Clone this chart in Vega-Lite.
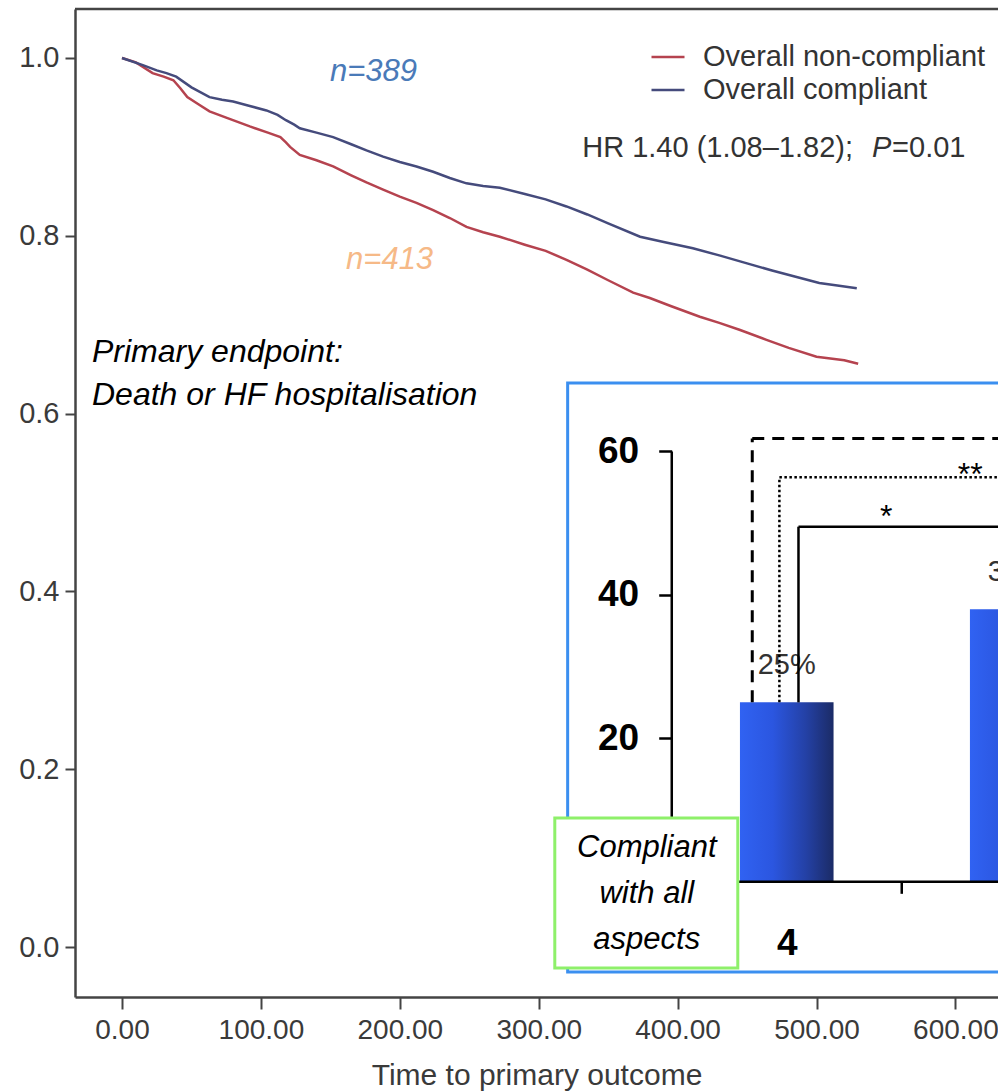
{
"$schema": "https://vega.github.io/schema/vega-lite/v6.json",
"autosize": "none",
"width": 923,
"height": 988,
"padding": {"left": 75, "top": 9, "right": 0, "bottom": 94},
"background": "white",
"config": {"view": {"stroke": null}, "font": "Liberation Sans", "axis": {"grid": false}},
"datasets": {
 "km": [
  {"t": 0, "s": 1.0, "group": "Overall non-compliant"},
  {"t": 10, "s": 0.995, "group": "Overall non-compliant"},
  {"t": 22, "s": 0.983, "group": "Overall non-compliant"},
  {"t": 30, "s": 0.979, "group": "Overall non-compliant"},
  {"t": 37, "s": 0.975, "group": "Overall non-compliant"},
  {"t": 42, "s": 0.966, "group": "Overall non-compliant"},
  {"t": 47, "s": 0.956, "group": "Overall non-compliant"},
  {"t": 55, "s": 0.948, "group": "Overall non-compliant"},
  {"t": 63, "s": 0.940, "group": "Overall non-compliant"},
  {"t": 75, "s": 0.933, "group": "Overall non-compliant"},
  {"t": 92, "s": 0.923, "group": "Overall non-compliant"},
  {"t": 105, "s": 0.916, "group": "Overall non-compliant"},
  {"t": 114, "s": 0.911, "group": "Overall non-compliant"},
  {"t": 118, "s": 0.905, "group": "Overall non-compliant"},
  {"t": 121, "s": 0.900, "group": "Overall non-compliant"},
  {"t": 128, "s": 0.891, "group": "Overall non-compliant"},
  {"t": 140, "s": 0.885, "group": "Overall non-compliant"},
  {"t": 152, "s": 0.878, "group": "Overall non-compliant"},
  {"t": 165, "s": 0.868, "group": "Overall non-compliant"},
  {"t": 176, "s": 0.860, "group": "Overall non-compliant"},
  {"t": 188, "s": 0.852, "group": "Overall non-compliant"},
  {"t": 200, "s": 0.844, "group": "Overall non-compliant"},
  {"t": 212, "s": 0.837, "group": "Overall non-compliant"},
  {"t": 224, "s": 0.829, "group": "Overall non-compliant"},
  {"t": 236, "s": 0.820, "group": "Overall non-compliant"},
  {"t": 248, "s": 0.810, "group": "Overall non-compliant"},
  {"t": 260, "s": 0.804, "group": "Overall non-compliant"},
  {"t": 272, "s": 0.799, "group": "Overall non-compliant"},
  {"t": 290, "s": 0.790, "group": "Overall non-compliant"},
  {"t": 305, "s": 0.783, "group": "Overall non-compliant"},
  {"t": 320, "s": 0.773, "group": "Overall non-compliant"},
  {"t": 335, "s": 0.762, "group": "Overall non-compliant"},
  {"t": 350, "s": 0.750, "group": "Overall non-compliant"},
  {"t": 368, "s": 0.736, "group": "Overall non-compliant"},
  {"t": 380, "s": 0.730, "group": "Overall non-compliant"},
  {"t": 395, "s": 0.721, "group": "Overall non-compliant"},
  {"t": 416, "s": 0.709, "group": "Overall non-compliant"},
  {"t": 430, "s": 0.702, "group": "Overall non-compliant"},
  {"t": 445, "s": 0.694, "group": "Overall non-compliant"},
  {"t": 464, "s": 0.683, "group": "Overall non-compliant"},
  {"t": 480, "s": 0.674, "group": "Overall non-compliant"},
  {"t": 500, "s": 0.664, "group": "Overall non-compliant"},
  {"t": 510, "s": 0.662, "group": "Overall non-compliant"},
  {"t": 520, "s": 0.660, "group": "Overall non-compliant"},
  {"t": 530, "s": 0.656, "group": "Overall non-compliant"},
  {"t": 0, "s": 1.0, "group": "Overall compliant"},
  {"t": 15, "s": 0.992, "group": "Overall compliant"},
  {"t": 25, "s": 0.986, "group": "Overall compliant"},
  {"t": 32, "s": 0.983, "group": "Overall compliant"},
  {"t": 39, "s": 0.979, "group": "Overall compliant"},
  {"t": 50, "s": 0.967, "group": "Overall compliant"},
  {"t": 63, "s": 0.956, "group": "Overall compliant"},
  {"t": 72, "s": 0.953, "group": "Overall compliant"},
  {"t": 80, "s": 0.951, "group": "Overall compliant"},
  {"t": 92, "s": 0.946, "group": "Overall compliant"},
  {"t": 104, "s": 0.941, "group": "Overall compliant"},
  {"t": 112, "s": 0.936, "group": "Overall compliant"},
  {"t": 118, "s": 0.930, "group": "Overall compliant"},
  {"t": 124, "s": 0.925, "group": "Overall compliant"},
  {"t": 128, "s": 0.921, "group": "Overall compliant"},
  {"t": 140, "s": 0.916, "group": "Overall compliant"},
  {"t": 152, "s": 0.911, "group": "Overall compliant"},
  {"t": 165, "s": 0.903, "group": "Overall compliant"},
  {"t": 176, "s": 0.896, "group": "Overall compliant"},
  {"t": 188, "s": 0.889, "group": "Overall compliant"},
  {"t": 200, "s": 0.883, "group": "Overall compliant"},
  {"t": 212, "s": 0.878, "group": "Overall compliant"},
  {"t": 224, "s": 0.872, "group": "Overall compliant"},
  {"t": 236, "s": 0.865, "group": "Overall compliant"},
  {"t": 248, "s": 0.859, "group": "Overall compliant"},
  {"t": 260, "s": 0.856, "group": "Overall compliant"},
  {"t": 272, "s": 0.854, "group": "Overall compliant"},
  {"t": 290, "s": 0.847, "group": "Overall compliant"},
  {"t": 305, "s": 0.841, "group": "Overall compliant"},
  {"t": 320, "s": 0.833, "group": "Overall compliant"},
  {"t": 335, "s": 0.824, "group": "Overall compliant"},
  {"t": 350, "s": 0.814, "group": "Overall compliant"},
  {"t": 373, "s": 0.799, "group": "Overall compliant"},
  {"t": 390, "s": 0.793, "group": "Overall compliant"},
  {"t": 411, "s": 0.786, "group": "Overall compliant"},
  {"t": 430, "s": 0.778, "group": "Overall compliant"},
  {"t": 450, "s": 0.769, "group": "Overall compliant"},
  {"t": 468, "s": 0.761, "group": "Overall compliant"},
  {"t": 485, "s": 0.754, "group": "Overall compliant"},
  {"t": 502, "s": 0.747, "group": "Overall compliant"},
  {"t": 515, "s": 0.744, "group": "Overall compliant"},
  {"t": 529, "s": 0.741, "group": "Overall compliant"}
 ],
 "bars": [
  {"aspects": 4, "pct": 25, "label": "25%"},
  {"aspects": 3, "pct": 38, "label": "38%"}
 ]
},
"layer": [
 {
  "layer": [
   {
    "data": {"name": "km"},
    "mark": {"type": "line", "strokeWidth": 2.5},
    "encoding": {
     "x": {"field": "t", "type": "quantitative",
       "scale": {"domain": [-33.84, 630.67], "nice": false, "zero": false},
       "axis": {"orient": "bottom", "values": [0, 100, 200, 300, 400, 500, 600], "format": ".2f", "title": "Time to primary outcome",
         "labelFontSize": 28, "labelColor": "#3a3a3a", "labelFont": "Liberation Sans", "titleFont": "Liberation Sans", "titleFontSize": 30, "titleFontWeight": "normal", "titleColor": "#3a3a3a",
         "domainColor": "#444", "domainWidth": 2.5, "tickColor": "#444", "tickWidth": 2, "tickSize": 12, "labelPadding": 7, "titlePadding": 16,
         "labelOverlap": false, "labelFlush": false, "labelBound": false, "grid": false}},
     "y": {"field": "s", "type": "quantitative",
       "scale": {"domain": [-0.0562, 1.0551], "nice": false, "zero": false},
       "axis": {"orient": "left", "values": [0, 0.2, 0.4, 0.6, 0.8, 1.0], "format": ".1f", "title": null,
         "labelFontSize": 29, "labelColor": "#3a3a3a", "labelFont": "Liberation Sans",
         "domainColor": "#444", "domainWidth": 2.5, "tickColor": "#444", "tickWidth": 2, "tickSize": 10, "labelPadding": 6,
         "labelOverlap": false, "labelFlush": false, "labelBound": false, "grid": false}},
     "color": {"field": "group", "type": "nominal",
       "scale": {"domain": ["Overall non-compliant", "Overall compliant"], "range": ["#b5434f", "#454b7c"]},
       "legend": {"orient": "none", "legendX": 575, "legendY": 30, "title": null, "padding": 0, "rowPadding": 0,
         "symbolType": "stroke", "symbolSize": 1089, "symbolStrokeWidth": 2.5, "labelOffset": 17,
         "labelFontSize": 29, "labelColor": "#333", "labelFont": "Liberation Sans", "labelLimit": 500}}
    }
   },
   {
    "data": {"values": [{}]},
    "mark": {"type": "rule", "color": "#444", "strokeWidth": 2.5},
    "encoding": {"y": {"datum": 1.0551}}
   },
   {
    "data": {"values": [{}]},
    "mark": {"type": "text", "text": "n=389", "align": "left", "baseline": "middle", "fontStyle": "italic", "fontSize": 31, "color": "#4a7ab8", "font": "Liberation Sans"},
    "encoding": {"x": {"datum": 149.7}, "y": {"datum": 0.9843}}
   },
   {
    "data": {"values": [{}]},
    "mark": {"type": "text", "text": "n=413", "align": "left", "baseline": "middle", "fontStyle": "italic", "fontSize": 31, "color": "#f6b987", "font": "Liberation Sans"},
    "encoding": {"x": {"datum": 161.3}, "y": {"datum": 0.7728}}
   },
   {
    "data": {"values": [{}]},
    "mark": {"type": "text", "text": "Primary endpoint:", "align": "left", "baseline": "middle", "fontStyle": "italic", "fontSize": 32, "color": "black", "font": "Liberation Sans"},
    "encoding": {"x": {"datum": -21.6}, "y": {"datum": 0.6693}}
   },
   {
    "data": {"values": [{}]},
    "mark": {"type": "text", "text": "Death or HF hospitalisation", "align": "left", "baseline": "middle", "fontStyle": "italic", "fontSize": 32, "color": "black", "font": "Liberation Sans"},
    "encoding": {"x": {"datum": -21.6}, "y": {"datum": 0.6209}}
   },
   {
    "data": {"values": [{}]},
    "mark": {"type": "text", "text": "HR 1.40 (1.08–1.82);", "align": "right", "baseline": "middle", "fontSize": 29, "color": "#333", "font": "Liberation Sans"},
    "encoding": {"x": {"datum": 526.3}, "y": {"datum": 0.8988}}
   },
   {
    "data": {"values": [{}]},
    "mark": {"type": "text", "text": "P", "align": "left", "baseline": "middle", "fontStyle": "italic", "fontSize": 29, "color": "#333", "font": "Liberation Sans"},
    "encoding": {"x": {"datum": 540.0}, "y": {"datum": 0.8988}}
   },
   {
    "data": {"values": [{}]},
    "mark": {"type": "text", "text": "=0.01", "align": "left", "baseline": "middle", "fontSize": 29, "color": "#333", "font": "Liberation Sans"},
    "encoding": {"x": {"datum": 554.4}, "y": {"datum": 0.8988}}
   }
  ]
 },
 {
  "layer": [
   {
    "data": {"values": [{}]},
    "mark": {"type": "rect", "fill": "white", "stroke": "#3b8ff0", "strokeWidth": 3, "clip": true},
    "encoding": {
     "x": {"datum": 4.9527, "type": "quantitative",
       "scale": {"domain": [3.1032, 7.0731], "reverse": true, "nice": false, "zero": false},
       "axis": {"orient": "bottom", "offset": -115.4, "values": [4], "format": "d", "domain": false, "ticks": false, "tickSize": 0,
         "labelFontSize": 37, "labelFontWeight": "bold", "labelColor": "black", "labelFont": "Liberation Sans", "labelPadding": 44,
         "title": null, "grid": false, "zindex": 1, "labelOverlap": false, "labelBound": false, "labelFlush": false}},
     "x2": {"datum": 2.5},
     "y": {"datum": 69.54, "type": "quantitative",
       "scale": {"domain": [-16.09, 121.7], "nice": false, "zero": false},
       "axis": {"orient": "left", "offset": -596.7, "values": [20, 40, 60], "domain": false, "ticks": true, "tickSize": 13, "tickWidth": 2.5, "tickColor": "black",
         "labelFontSize": 37, "labelFontWeight": "bold", "labelColor": "black", "labelFont": "Liberation Sans", "labelPadding": 20,
         "title": null, "grid": false, "zindex": 1, "labelOverlap": false, "labelBound": false, "labelFlush": false}},
     "y2": {"datum": -12.6}
    }
   },
   {
    "data": {"name": "bars"},
    "mark": {"type": "bar", "orient": "vertical", "size": 93.6, "clip": true,
      "color": {"gradient": "linear", "x1": 0, "y1": 0, "x2": 1, "y2": 0,
        "stops": [{"offset": 0, "color": "#3062f2"}, {"offset": 0.35, "color": "#2b56e0"}, {"offset": 0.7, "color": "#2441a6"}, {"offset": 1, "color": "#1b2b66"}]}},
    "encoding": {
     "x": {"field": "aspects", "type": "quantitative", "title": null},
     "y": {"field": "pct", "type": "quantitative", "title": null},
     "y2": {"datum": 0}
    }
   },
   {
    "data": {"name": "bars"},
    "mark": {"type": "text", "fontSize": 29, "color": "#333", "dy": -37, "baseline": "middle", "align": "center", "clip": true, "font": "Liberation Sans"},
    "encoding": {
     "x": {"field": "aspects", "type": "quantitative", "title": null},
     "y": {"field": "pct", "type": "quantitative", "title": null},
     "text": {"field": "label"}
    }
   },
   {
    "data": {"values": [{}]},
    "mark": {"type": "rule", "color": "black", "strokeWidth": 2.5},
    "encoding": {"x": {"datum": 4.5}, "y": {"datum": 0}, "y2": {"datum": 60}}
   },
   {
    "data": {"values": [{}]},
    "mark": {"type": "rule", "color": "black", "strokeWidth": 2.5, "clip": true},
    "encoding": {"x": {"datum": 4.5}, "x2": {"datum": 2.5}, "y": {"datum": 0}}
   },
   {
    "data": {"values": [{}]},
    "mark": {"type": "rule", "color": "black", "strokeWidth": 2.5},
    "encoding": {"x": {"datum": 3.5}, "y": {"datum": 0}, "y2": {"datum": -1.7}}
   },
   {
    "data": {"values": [{}]},
    "mark": {"type": "rule", "color": "black", "strokeWidth": 3, "strokeDash": [12, 8]},
    "encoding": {"x": {"datum": 4.15}, "y": {"datum": 25}, "y2": {"datum": 61.8}}
   },
   {
    "data": {"values": [{}]},
    "mark": {"type": "rule", "color": "black", "strokeWidth": 3, "strokeDash": [12, 8], "clip": true},
    "encoding": {"x": {"datum": 4.15}, "x2": {"datum": 2.5}, "y": {"datum": 61.8}}
   },
   {
    "data": {"values": [{}]},
    "mark": {"type": "rule", "color": "black", "strokeWidth": 2.5, "strokeDash": [2.5, 2.5]},
    "encoding": {"x": {"datum": 4.032}, "y": {"datum": 25}, "y2": {"datum": 56.4}}
   },
   {
    "data": {"values": [{}]},
    "mark": {"type": "rule", "color": "black", "strokeWidth": 2.5, "strokeDash": [2.5, 2.5], "clip": true},
    "encoding": {"x": {"datum": 4.032}, "x2": {"datum": 2.5}, "y": {"datum": 56.4}}
   },
   {
    "data": {"values": [{}]},
    "mark": {"type": "rule", "color": "black", "strokeWidth": 2.5},
    "encoding": {"x": {"datum": 3.949}, "y": {"datum": 25}, "y2": {"datum": 49.5}}
   },
   {
    "data": {"values": [{}]},
    "mark": {"type": "rule", "color": "black", "strokeWidth": 2.5, "clip": true},
    "encoding": {"x": {"datum": 3.949}, "x2": {"datum": 2.5}, "y": {"datum": 49.5}}
   },
   {
    "data": {"values": [{}]},
    "mark": {"type": "text", "text": "*", "fontSize": 32, "color": "black", "align": "center", "baseline": "alphabetic", "font": "Liberation Sans"},
    "encoding": {"x": {"datum": 3.568}, "y": {"datum": 49.4}}
   },
   {
    "data": {"values": [{}]},
    "mark": {"type": "text", "text": "**", "fontSize": 32, "color": "black", "align": "center", "baseline": "alphabetic", "font": "Liberation Sans", "clip": true},
    "encoding": {"x": {"datum": 3.202}, "y": {"datum": 55.3}}
   },
   {
    "data": {"values": [{}]},
    "mark": {"type": "rect", "fill": "white", "stroke": "#8ef06a", "strokeWidth": 3},
    "encoding": {"x": {"datum": 5.0086}, "x2": {"datum": 4.2129}, "y": {"datum": 8.87}, "y2": {"datum": -12.05}}
   },
   {
    "data": {"values": [{}]},
    "mark": {"type": "text", "fontSize": 31, "fontStyle": "italic", "color": "black", "align": "center", "baseline": "middle", "lineHeight": 46, "font": "Liberation Sans"},
    "encoding": {"x": {"datum": 4.6086}, "y": {"datum": 4.69}, "text": {"value": ["Compliant", "with all", "aspects"]}}
   }
  ]
 }
],
"resolve": {"scale": {"x": "independent", "y": "independent"}, "axis": {"x": "independent", "y": "independent"}}
}
